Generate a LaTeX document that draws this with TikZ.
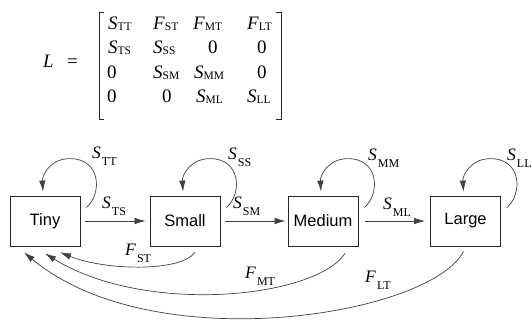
\documentclass[tikz,border=0pt]{standalone}
\usepackage{fontspec}
\setmainfont{Liberation Serif}
\newfontfamily\boxfont{Liberation Sans}
\usetikzlibrary{arrows.meta,calc}
\newcommand\Msub[2]{\textit{#1}\raisebox{-1pt}{\fontsize{11.5}{11.5}\selectfont #2}}
\newcommand\Dsub[2]{\textit{#1}\kern1pt\raisebox{-7pt}{\fontsize{12}{12}\selectfont #2}}
\tikzset{
  ent/.style={anchor=base west,inner sep=0pt,font=\fontsize{19}{19}\selectfont},
  lbl/.style={anchor=base west,inner sep=0pt,font=\fontsize{17.5}{17.5}\selectfont},
  stage/.style={draw=black!85,line width=0.8pt,minimum width=70pt,minimum height=50pt,inner sep=0pt,font=\boxfont\fontsize{16.5}{16.5}\selectfont},
  conn/.style={draw=black!75,line width=0.7pt,-{Latex[length=11pt,width=6.5pt]}},
  brack/.style={draw=black!85,line width=1pt},
}
\begin{document}
\begin{tikzpicture}[x=1pt,y=-1pt]
\useasboundingbox (0,0) rectangle (532,322);
% matrix
\node[ent] (L) at (43,67) {\textit{L}};
\node[ent] (eq) at (67,67) {=};
\draw[brack] (104,12) -- (99,12) -- (99,119) -- (104,119);
\draw[brack] (276,12) -- (281,12) -- (281,119) -- (276,119);
\node[ent] (m11) at (108,29) {\Msub{S}{TT}};
\node[ent] (m12) at (153,29) {\Msub{F}{ST}};
\node[ent] (m13) at (193,29) {\Msub{F}{MT}};
\node[ent] (m14) at (247,29) {\Msub{F}{LT}};
\node[ent] (m21) at (108,53.5) {\Msub{S}{TS}};
\node[ent] (m22) at (153,53.5) {\Msub{S}{SS}};
\node[ent] (m23) at (208,53.5) {0};
\node[ent] (m24) at (257,53.5) {0};
\node[ent] (m31) at (107,78) {0};
\node[ent] (m32) at (153,78) {\Msub{S}{SM}};
\node[ent] (m33) at (194,78) {\Msub{S}{MM}};
\node[ent] (m34) at (257,78) {0};
\node[ent] (m41) at (107,102) {0};
\node[ent] (m42) at (162,102) {0};
\node[ent] (m43) at (196,102) {\Msub{S}{ML}};
\node[ent] (m44) at (247,102) {\Msub{S}{LL}};
% stages
\node[stage] (T) at (45,221) {Tiny};
\node[stage] (S) at (185,221) {Small};
\node[stage] (M) at (323,221) {Medium};
\node[stage] (G) at (465.5,221) {Large};
% forward arrows
\draw[conn,shorten <=5pt,shorten >=4pt] (T) -- (S);
\draw[conn,shorten <=5pt,shorten >=2pt] (S) -- (M);
\draw[conn,shorten <=7pt,shorten >=5pt] (M) -- (G);
% self loops
\foreach \n in {T,S,M,G}{
  \draw[conn] ($(\n.north east)+(6,12)$) .. controls +(16,-14) and +(31,0) .. ($(\n.north)+(25,-37)$)
     .. controls +(-20,0) and +(-1,-16) .. ($(\n.north)+(-2,-4)$);
}
% fecundity arrows
\draw[conn] ($(S.south)+(10,6)$) .. controls +(-15,20) and +(45,18) .. ($(T.south)+(15,6)$);
\draw[conn] ($(M.south)+(22,7)$) .. controls +(-30,45) and +(100,62) .. ($(T.south)+(0,7)$);
\draw[conn] ($(G.south)+(-2,5)$) .. controls +(-33,64) and +(130,108) .. ($(T.south)+(-21,6)$);
% labels
\node[lbl] (lTT) at (92,158) {\Dsub{S}{TT}};
\node[lbl] (lTS) at (102,208) {\Dsub{S}{TS}};
\node[lbl] (lSS) at (228,159) {\Dsub{S}{SS}};
\node[lbl] (lSM) at (233,208) {\Dsub{S}{SM}};
\node[lbl] (lMM) at (368,160) {\Dsub{S}{MM}};
\node[lbl] (lML) at (383,209) {\Dsub{S}{ML}};
\node[lbl] (lLL) at (507,160) {\Dsub{S}{LL}};
\node[lbl] (lST) at (125,255) {\Dsub{F}{ST}};
\node[lbl] (lMT) at (245,278) {\Dsub{F}{MT}};
\node[lbl] (lLT) at (365,282) {\Dsub{F}{LT}};
\end{tikzpicture}
\end{document}
